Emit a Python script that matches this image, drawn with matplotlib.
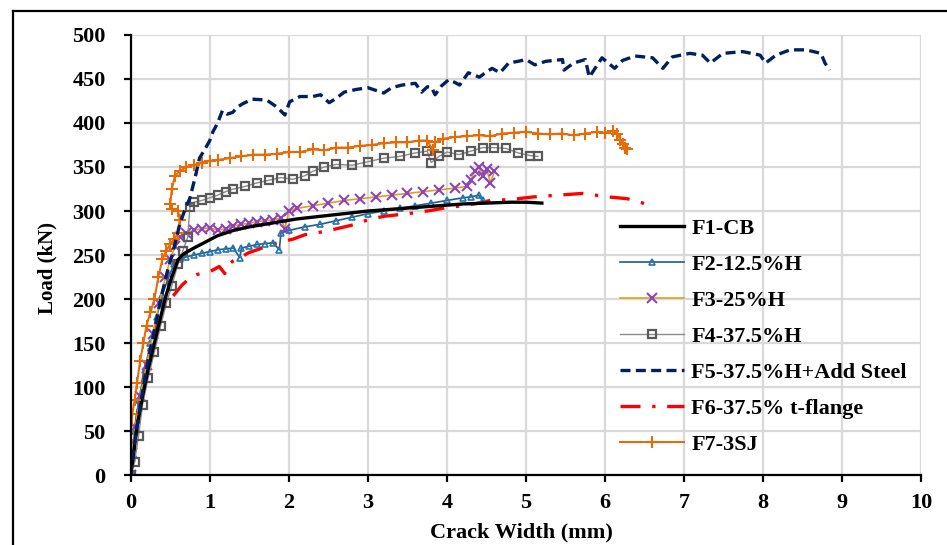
import matplotlib
matplotlib.use("Agg")
import matplotlib.pyplot as plt
from matplotlib.lines import Line2D

plt.rcParams['font.family'] = ['Liberation Serif', 'DejaVu Serif']
plt.rcParams['font.weight'] = 'bold'

# ---- data ----
f1_x = [0, 0.03, 0.08, 0.15, 0.22, 0.3, 0.38, 0.45, 0.52, 0.6, 0.68, 0.8, 0.95, 1.1, 1.3,
        1.5, 1.7, 1.9, 2.1, 2.4, 2.7, 3.0, 3.3, 3.6, 3.9, 4.2, 4.5, 4.8, 5.0, 5.2]
f1_y = [0, 20, 55, 90, 120, 150, 180, 205, 225, 245, 252, 258, 265, 272, 278,
        282, 285, 288, 291, 294, 297, 300, 302, 304, 306, 308, 309, 310, 310, 309]

f2_x = [0, 0.02, 0.05, 0.1, 0.18, 0.25, 0.33, 0.4, 0.48, 0.55, 0.62, 0.7, 0.8, 0.9, 1.0,
        1.1, 1.2, 1.3, 1.38, 1.4, 1.5, 1.6, 1.7, 1.8, 1.88, 1.9, 2.0, 2.2, 2.4, 2.6, 2.8,
        3.0, 3.2, 3.4, 3.6, 3.8, 4.0, 4.2, 4.3, 4.4, 4.45]
f2_y = [0, 20, 50, 85, 120, 150, 180, 205, 225, 240, 245, 248, 250, 252, 254,
        256, 257, 258, 247, 258, 260, 262, 263, 264, 256, 275, 278, 282, 285, 289, 293,
        297, 300, 303, 306, 309, 312, 315, 316, 318, 312]

f3_x = [0, 0.02, 0.06, 0.12, 0.2, 0.28, 0.36, 0.44, 0.5, 0.56, 0.62, 0.7, 0.8, 0.9, 1.0,
        1.1, 1.2, 1.3, 1.4, 1.5, 1.6, 1.7, 1.8, 1.9, 1.95, 2.0, 2.1, 2.3, 2.5, 2.7, 2.9,
        3.1, 3.3, 3.5, 3.7, 3.9, 4.1, 4.25, 4.3, 4.35, 4.4, 4.45, 4.5, 4.55, 4.6]
f3_y = [0, 25, 55, 90, 125, 160, 195, 225, 245, 260, 270, 275, 278, 280, 281,
        278, 280, 283, 285, 286, 288, 289, 290, 292, 280, 300, 303, 306, 309, 312, 314,
        316, 318, 320, 322, 324, 326, 328, 335, 345, 350, 340, 348, 332, 345]

f4_x = [0, 0.05, 0.1, 0.15, 0.22, 0.3, 0.38, 0.45, 0.52, 0.6, 0.66, 0.72, 0.75, 0.8, 0.9,
        1.0, 1.1, 1.2, 1.3, 1.45, 1.6, 1.75, 1.9, 2.05, 2.2, 2.3, 2.45, 2.6, 2.8, 3.0,
        3.2, 3.4, 3.6, 3.75, 3.8, 3.9, 4.0, 4.15, 4.3, 4.45, 4.6, 4.75, 4.9, 5.05, 5.15]
f4_y = [0, 15, 45, 80, 110, 140, 170, 195, 215, 240, 255, 270, 305, 310, 312,
        315, 318, 322, 325, 328, 332, 335, 338, 336, 340, 345, 350, 353, 352, 356,
        360, 362, 366, 368, 355, 362, 367, 364, 368, 372, 372, 371, 366, 363, 362]

f5_x = [0, 0.03, 0.08, 0.15, 0.22, 0.3, 0.38, 0.46, 0.54, 0.62, 0.68, 0.75, 0.82, 0.87,
        0.95, 1.0, 1.04, 1.1, 1.16, 1.22, 1.29, 1.35, 1.42, 1.54, 1.72, 1.85, 1.95, 2.01,
        2.14, 2.3, 2.4, 2.51, 2.6, 2.7, 2.85, 3.0, 3.1, 3.2, 3.3, 3.43, 3.6, 3.68, 3.75,
        3.8, 3.85, 3.93, 4.02, 4.1, 4.16, 4.27, 4.41, 4.5, 4.57, 4.67, 4.78, 4.9, 5.0,
        5.11, 5.25, 5.46, 5.48, 5.6, 5.75, 5.8, 5.96, 6.12, 6.22, 6.38, 6.6, 6.73, 6.85,
        7.07, 7.23, 7.33, 7.49, 7.74, 7.96, 8.03, 8.16, 8.34, 8.54, 8.73, 8.78, 8.84]
f5_y = [0, 25, 55, 95, 130, 165, 200, 230, 255, 285, 300, 315, 340, 360,
        372, 380, 390, 400, 414, 410, 412, 418, 422, 427, 426, 418, 409, 424,
        430, 430, 432, 423, 428, 435, 438, 440, 437, 434, 440, 443, 445, 435, 441,
        441, 432, 442, 449, 446, 443, 457, 452, 458, 462, 457, 468, 470, 472,
        466, 470, 472, 460, 468, 472, 452, 474, 462, 471, 476, 474, 462, 475,
        479, 477, 468, 479, 481, 477, 468, 477, 483, 483, 479, 468, 460]

f6_x = [0, 0.02, 0.05, 0.08, 0.12, 0.18, 0.25, 0.33, 0.42, 0.5, 0.55, 0.65, 0.75, 0.84,
        0.95, 1.04, 1.12, 1.19, 1.22, 1.29, 1.4, 1.5, 1.6, 1.75, 1.9, 2.05, 2.2, 2.4,
        2.56, 2.8, 3.0, 3.2, 3.4, 3.6, 3.82, 4.0, 4.2, 4.4, 4.55, 4.8, 5.09, 5.4, 5.72,
        6.04, 6.28, 6.52]
f6_y = [0, 20, 45, 66, 90, 120, 150, 170, 190, 200, 205, 216, 224, 228,
        230, 233, 237, 229, 238, 243, 248, 253, 256, 261, 265, 268, 273, 276,
        279, 284, 290, 294, 296, 298, 301, 304, 306, 309, 312, 313, 316, 318, 320,
        316, 314, 308]

f7_x = [0, 0.0, 0.02, 0.05, 0.08, 0.12, 0.16, 0.2, 0.25, 0.3, 0.35, 0.4, 0.45, 0.5, 0.55,
        0.6, 0.62, 0.6, 0.52, 0.5, 0.52, 0.56, 0.62, 0.7, 0.8, 0.9, 1.0, 1.1, 1.25, 1.4,
        1.55, 1.7, 1.85, 2.0, 2.14, 2.3, 2.45, 2.6, 2.75, 2.9, 3.05, 3.2, 3.35, 3.5, 3.65,
        3.75, 3.82, 3.85, 3.95, 4.1, 4.25, 4.4, 4.55, 4.7, 4.85, 5.0, 5.15, 5.3, 5.45,
        5.6, 5.75, 5.9, 6.0, 6.1, 6.15, 6.19, 6.22, 6.25, 6.28]
f7_y = [0, 40, 70, 85, 105, 130, 150, 170, 185, 200, 225, 245, 255, 262, 268,
        275, 290, 300, 302, 308, 325, 340, 345, 350, 352, 355, 357, 358, 360, 362,
        364, 364, 365, 367, 367, 370, 369, 372, 372, 374, 375, 377, 378, 378, 380,
        380, 369, 378, 382, 384, 385, 386, 385, 388, 389, 390, 388, 387, 388,
        386, 388, 390, 389, 391, 388, 381, 376, 372, 370]

labels = ['F1-CB', 'F2-12.5%H', 'F3-25%H', 'F4-37.5%H',
          'F5-37.5%H+Add Steel', 'F6-37.5% t-flange', 'F7-3SJ']

fig = plt.figure(figsize=(9.47, 5.45), dpi=100)
ax = fig.add_axes([0.138, 0.128, 0.835, 0.808])

# figure frame (left and top edges visible)
fig.add_artist(Line2D([0.0137, 0.0137], [0, 0.98], color='k', lw=1.6))
fig.add_artist(Line2D([0.0137, 1.0], [0.98, 0.98], color='k', lw=1.6))

ax.plot(f1_x, f1_y, color='black', lw=2.4, label=labels[0], zorder=4)
ax.plot(f2_x, f2_y, color='#1F5C8C', lw=1.2, marker='^', ms=5, mfc='none',
        mec='#2675B0', mew=1.2, label=labels[1], zorder=3)
ax.plot(f3_x, f3_y, color='#E0A01E', lw=1.2, marker='x', ms=7,
        mec='#8E44B8', mew=1.5, label=labels[2], zorder=3)
ax.plot(f4_x, f4_y, color='#8C8C8C', lw=1.0, marker='s', ms=6, mfc='none',
        mec='#595959', mew=1.6, label=labels[3], zorder=3)
ax.plot(f5_x, f5_y, color='#002060', lw=2.4, ls=(0, (3, 1.6)), label=labels[4], zorder=5)
ax.plot(f6_x, f6_y, color='#FF0000', lw=2.4, ls=(0, (6, 3.5, 1, 3.5)), label=labels[5], zorder=2)
ax.plot(f7_x, f7_y, color='#E46C0A', lw=1.5, marker='+', ms=8, mew=1.5,
        label=labels[6], zorder=4)

ax.set_xlim(0, 10)
ax.set_ylim(0, 500)
ax.set_xticks(range(0, 11))
ax.set_yticks(range(0, 501, 50))
ax.grid(True, color='#D9D9D9', lw=1.6)
ax.set_axisbelow(True)
for s in ['top', 'right']:
    ax.spines[s].set_visible(False)
for s in ['left', 'bottom']:
    ax.spines[s].set_linewidth(1.6)
    ax.spines[s].set_zorder(6)
ax.tick_params(axis='both', direction='out', length=5, width=1.6, labelsize=16)
ax.tick_params(axis='y', pad=13)
ax.tick_params(axis='x', pad=8)

ax.set_xlabel('Crack Width (mm)', fontsize=16, fontweight='bold')
ax.set_ylabel('Load (kN)', fontsize=15, fontweight='bold')
ax.xaxis.set_label_coords(0.494, -0.108)
ax.yaxis.set_label_coords(-0.092, 0.47)

leg = ax.legend(loc='upper left', bbox_to_anchor=(0.655, 0.6),
                bbox_transform=fig.transFigure, frameon=False, fontsize=16,
                handlelength=2.85, handletextpad=0.35, labelspacing=0.7,
                borderpad=0, borderaxespad=0)

plt.savefig('out.png', dpi=100)
